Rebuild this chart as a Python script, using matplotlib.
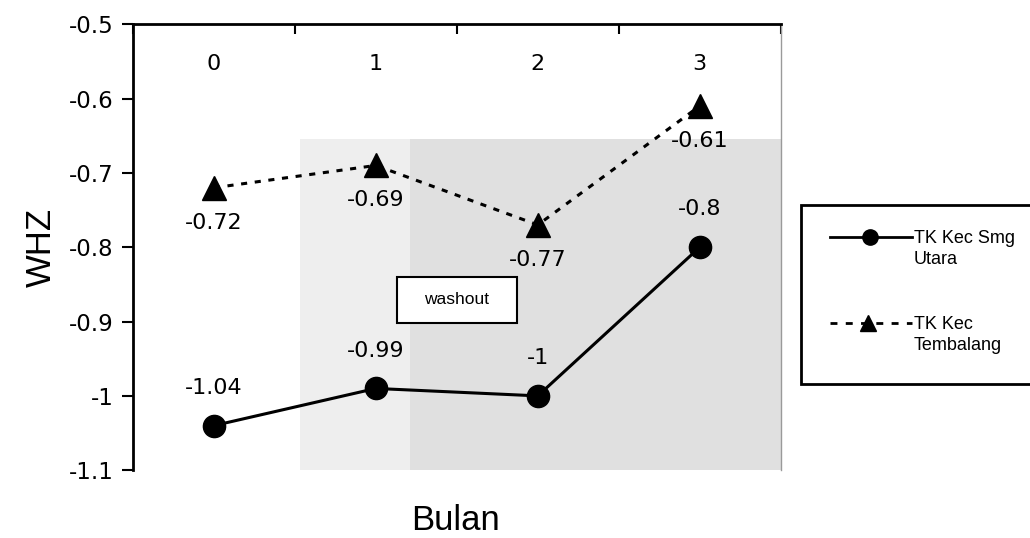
import matplotlib.pyplot as plt
from matplotlib.patches import Rectangle
from matplotlib.lines import Line2D

bulan = [0, 1, 2, 3]
smg_utara = [-1.04, -0.99, -1.0, -0.8]
tembalang = [-0.72, -0.69, -0.77, -0.61]
smg_label = ["-1.04", "-0.99", "-1", "-0.8"]
tmb_label = ["-0.72", "-0.69", "-0.77", "-0.61"]
yticks = [-1.1, -1.0, -0.9, -0.8, -0.7, -0.6, -0.5]
ytick_labels = ["-1.1", "-1", "-0.9", "-0.8", "-0.7", "-0.6", "-0.5"]

W, H = 1030, 538
fig = plt.figure(figsize=(W / 100, H / 100), dpi=100)
ax = fig.add_axes([0.129, 0.126, 0.629, 0.829])
ax.set_xlim(-0.5, 3.5)
ax.set_ylim(-1.1, -0.5)

# grey background blotches behind the lines
ax.add_patch(Rectangle((0.53, -1.1), 0.68, 0.445, facecolor="#eeeeee", edgecolor="none", zorder=0))
ax.add_patch(Rectangle((1.21, -1.1), 2.29, 0.445, facecolor="#e0e0e0", edgecolor="none", zorder=0))

ax.plot(bulan, smg_utara, color="black", lw=2.2, marker="o", ms=16, zorder=3)
ax.plot(bulan, tembalang, color="black", lw=2.2, ls=(0, (2, 2.5)), marker="^", ms=17, zorder=3)

for x, y, s in zip(bulan, smg_utara, smg_label):
    ax.annotate(s, (x, y), xytext=(0, 20), textcoords="offset points",
                ha="center", va="bottom", fontsize=16)
for x, y, s in zip(bulan, tembalang, tmb_label):
    ax.annotate(s, (x, y), xytext=(0, -18), textcoords="offset points",
                ha="center", va="top", fontsize=16)

# category axis drawn along the top
ax.spines["bottom"].set_visible(False)
ax.spines["right"].set_color("#9a9a9a")
ax.spines["right"].set_linewidth(1)
ax.spines["top"].set_linewidth(2)
ax.spines["left"].set_linewidth(2)
ax.xaxis.tick_top()
ax.set_xticks([-0.5, 0.5, 1.5, 2.5, 3.5])
ax.set_xticklabels([])
ax.tick_params(axis="x", direction="in", length=7, width=1.5)
for x in bulan:
    ax.text(x, -0.54, str(x), ha="center", va="top", fontsize=16)

ax.set_yticks(yticks)
ax.set_yticklabels(ytick_labels, fontsize=16.5)
ax.tick_params(axis="y", direction="out", length=8, width=1.5, pad=6)

ax.set_ylabel("WHZ", fontsize=25, family="Liberation Sans", labelpad=8)
fig.text(0.442, 0.033, "Bulan", fontsize=25, family="Liberation Sans", ha="center", va="center")

# washout label box
ax.add_patch(Rectangle((1.5 - 0.37, -0.902), 0.74, 0.062, facecolor="white",
                       edgecolor="black", lw=1.5, zorder=4))
ax.text(1.5, -0.871, "washout", fontsize=12.5, family="Liberation Sans", ha="center",
        va="center", zorder=5)

# legend box on the right, running off the edge of the figure
fig.add_artist(Rectangle((801 / W, 1 - 384 / H), 0.3, 179 / H, transform=fig.transFigure,
                         facecolor="white", edgecolor="black", lw=2))
fig.add_artist(Line2D([830 / W, 912 / W], [1 - 237 / H] * 2, transform=fig.transFigure,
                      color="black", lw=2))
fig.add_artist(Line2D([870 / W], [1 - 237 / H], transform=fig.transFigure,
                      color="black", marker="o", ms=11))
fig.add_artist(Line2D([830 / W, 912 / W], [1 - 323 / H] * 2, transform=fig.transFigure,
                      color="black", lw=2, ls=(0, (2.5, 3))))
fig.add_artist(Line2D([868 / W], [1 - 323 / H], transform=fig.transFigure,
                      color="black", marker="^", ms=12))
legend_font = ["Liberation Sans Narrow", "Liberation Sans"]
fig.text(914 / W, 1 - 249 / H, "TK Kec Smg\nUtara", fontsize=13, family=legend_font,
         ha="left", va="center", linespacing=1.25)
fig.text(914 / W, 1 - 335 / H, "TK Kec\nTembalang", fontsize=13, family=legend_font,
         ha="left", va="center", linespacing=1.25)

fig.savefig("out.png", dpi=100)
